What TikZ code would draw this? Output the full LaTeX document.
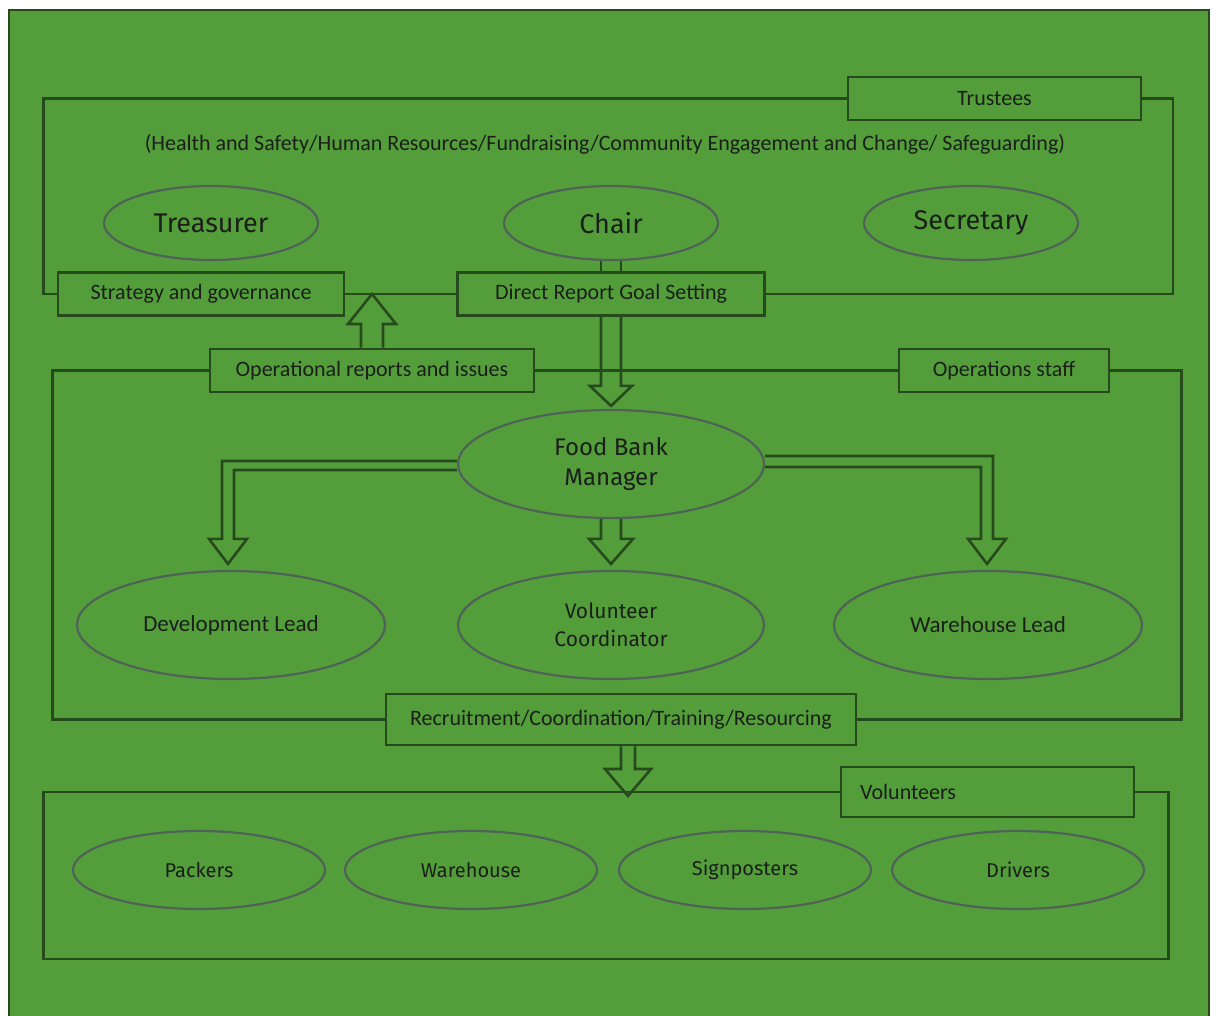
\documentclass[tikz,border=0pt]{standalone}
\usepackage{fontspec}
\setmainfont{Carlito}
\newfontfamily\dinfont{Fira Sans}
\usetikzlibrary{shapes.geometric,calc}
\definecolor{grass}{HTML}{539E3B}
\definecolor{leaf}{HTML}{264A1B}
\definecolor{rim}{HTML}{4E6257}
\definecolor{ink}{HTML}{1B1F1A}
\tikzset{
  box/.style={draw=leaf,line width=2.6pt,fill=grass,inner sep=0pt,minimum height=43,text=ink,font=\fontsize{22}{26}\selectfont},
  role/.style={ellipse,draw=rim,line width=2.2pt,inner sep=0pt,align=center,text=ink},
  link/.style={draw=leaf,line width=2.6pt,line join=miter},
}
\begin{document}
\begin{tikzpicture}[x=1pt,y=-1pt]
\useasboundingbox (0,0) rectangle (1216,1016);
\draw[leaf,line width=2pt,fill=grass] (9,10) rectangle (1209,1040);

% trustees
\node[box,minimum width=293] (trus) at (994.5,98.5) {Trustees};
\node[text=ink,font=\fontsize{22}{26}\selectfont] (areas) at (605,144) {(Health and Safety/Human Resources/Fundraising/Community Engagement and Change/ Safeguarding)};
\node[role,minimum width=214,minimum height=74,font=\dinfont\fontsize{27}{32}\selectfont] (treas) at (211,223) {Treasurer};
\node[role,minimum width=214,minimum height=74,font=\dinfont\fontsize{27}{32}\selectfont] (chair) at (611,223) {Chair};
\node[role,minimum width=214,minimum height=74,font=\dinfont\fontsize{27}{32}\selectfont] (secr) at (971,223) {Secretary};
\node[box,minimum width=286] (strat) at (201,294) {Strategy and governance};
\node[box,minimum width=307] (dr) at (611,294) {Direct Report Goal Setting};
\draw[link] (trus.west) -| ($(strat.west)+(-13,0)$) -- (strat.west);
\draw[link] (trus.east) -| ($(dr.east)+(407,0)$) -- (dr.east);
\draw[link] (strat) -- (dr);
\coordinate (cl) at ($(chair.south)+(-10,0)$);
\coordinate (cr) at ($(chair.south)+(10,0)$);
\draw[link] (cl) -- (cl |- dr.north);
\draw[link] (cr) -- (cr |- dr.north);

% operations staff
\node[box,minimum width=324] (opr) at (372,370.5) {Operational reports and issues};
\node[box,minimum width=210] (ops) at (1004,370.5) {Operations staff};
\node[box,minimum width=470,minimum height=51] (rec) at (621,719.5) {Recruitment/Coordination/Training/Resourcing};
\draw[link] (opr.west) -| ($(rec.west)+(-332,0)$) -- (rec.west);
\draw[link] (opr) -- (ops);
\draw[link] (ops.east) -| ($(rec.east)+(324,0)$) -- (rec.east);
\node[role,minimum width=306,minimum height=108,font=\dinfont\fontsize{24}{30}\selectfont] (fbm) at (611,464) {Food Bank\\Manager};
\node[role,minimum width=308,minimum height=108,font=\fontsize{23}{26}\selectfont] (dev) at (231,625) {Development Lead};
\node[role,minimum width=306,minimum height=108,font=\dinfont\fontsize{21}{28}\selectfont] (vc) at (611,625) {Volunteer\\Coordinator};
\node[role,minimum width=308,minimum height=108,font=\fontsize{23}{26}\selectfont] (wl) at (988,625) {Warehouse Lead};

% block arrows
\coordinate (tu) at (opr.north |- strat.east);
\draw[link] ($(opr.north)+(-11,0)$) -- ($(tu)+(-11,30)$) -- ++(-13,0) -- (tu) -- ++(24,30) -- ++(-13,0) -- ($(opr.north)+(11,0)$);
\coordinate (tf) at ($(fbm.north)+(0,-3)$);
\draw[link] ($(dr.south)+(-10,0)$) -- ($(tf)+(-10,-20)$) -- ++(-11,0) -- (tf) -- ++(21,-20) -- ++(-11,0) -- ($(dr.south)+(10,0)$);
\coordinate (tl) at ($(dev.north)+(-3,-6)$);
\draw[link] ($(fbm.west)+(0,-3)$) -| ($(tl)+(-6,-25)$) -- ++(-13,0) -- (tl) -- ++(19,-25) -- ++(-13,0) |- ($(fbm.west)+(0,6)$);
\coordinate (tr) at ($(wl.north)+(-1,-6)$);
\draw[link] ($(fbm.east)+(0,-8)$) -| ($(tr)+(6,-25)$) -- ++(13,0) -- (tr) -- ++(-19,-25) -- ++(13,0) |- ($(fbm.east)+(0,3)$);
\coordinate (tm) at ($(vc.north)+(0,-6)$);
\draw[link] ($(fbm.south)+(-10,0)$) -- ($(tm)+(-10,-25)$) -- ++(-12,0) -- (tm) -- ++(22,-25) -- ++(-12,0) -- ($(fbm.south)+(10,0)$);

% volunteers
\node[box,minimum width=293,minimum height=50,text width=255,align=left] (vol) at (987.5,792) {Volunteers};
\draw[link] (vol.west) -- ++(-796,0) -- ++(0,167) -- ++(1125,0) |- (vol.east);
\coordinate (rv) at ($(rec.south)+(7,0)$);
\coordinate (tv) at ($(rv |- vol.west)+(0,4)$);
\draw[link] ($(rv)+(-7,0)$) -- ($(tv)+(-7,-27)$) -- ++(-16,0) -- (tv) -- ++(23,-27) -- ++(-16,0) -- ($(rv)+(7,0)$);
\node[role,minimum width=252,minimum height=78,font=\dinfont\fontsize{20}{24}\selectfont] (pack) at (199,870) {Packers};
\node[role,minimum width=252,minimum height=78,font=\dinfont\fontsize{20}{24}\selectfont] (ware) at (471,870) {Warehouse};
\node[role,minimum width=252,minimum height=78,font=\dinfont\fontsize{20}{24}\selectfont] (sign) at (745,870) {Signposters};
\node[role,minimum width=252,minimum height=78,font=\dinfont\fontsize{20}{24}\selectfont] (drv) at (1018,870) {Drivers};
\end{tikzpicture}
\end{document}
